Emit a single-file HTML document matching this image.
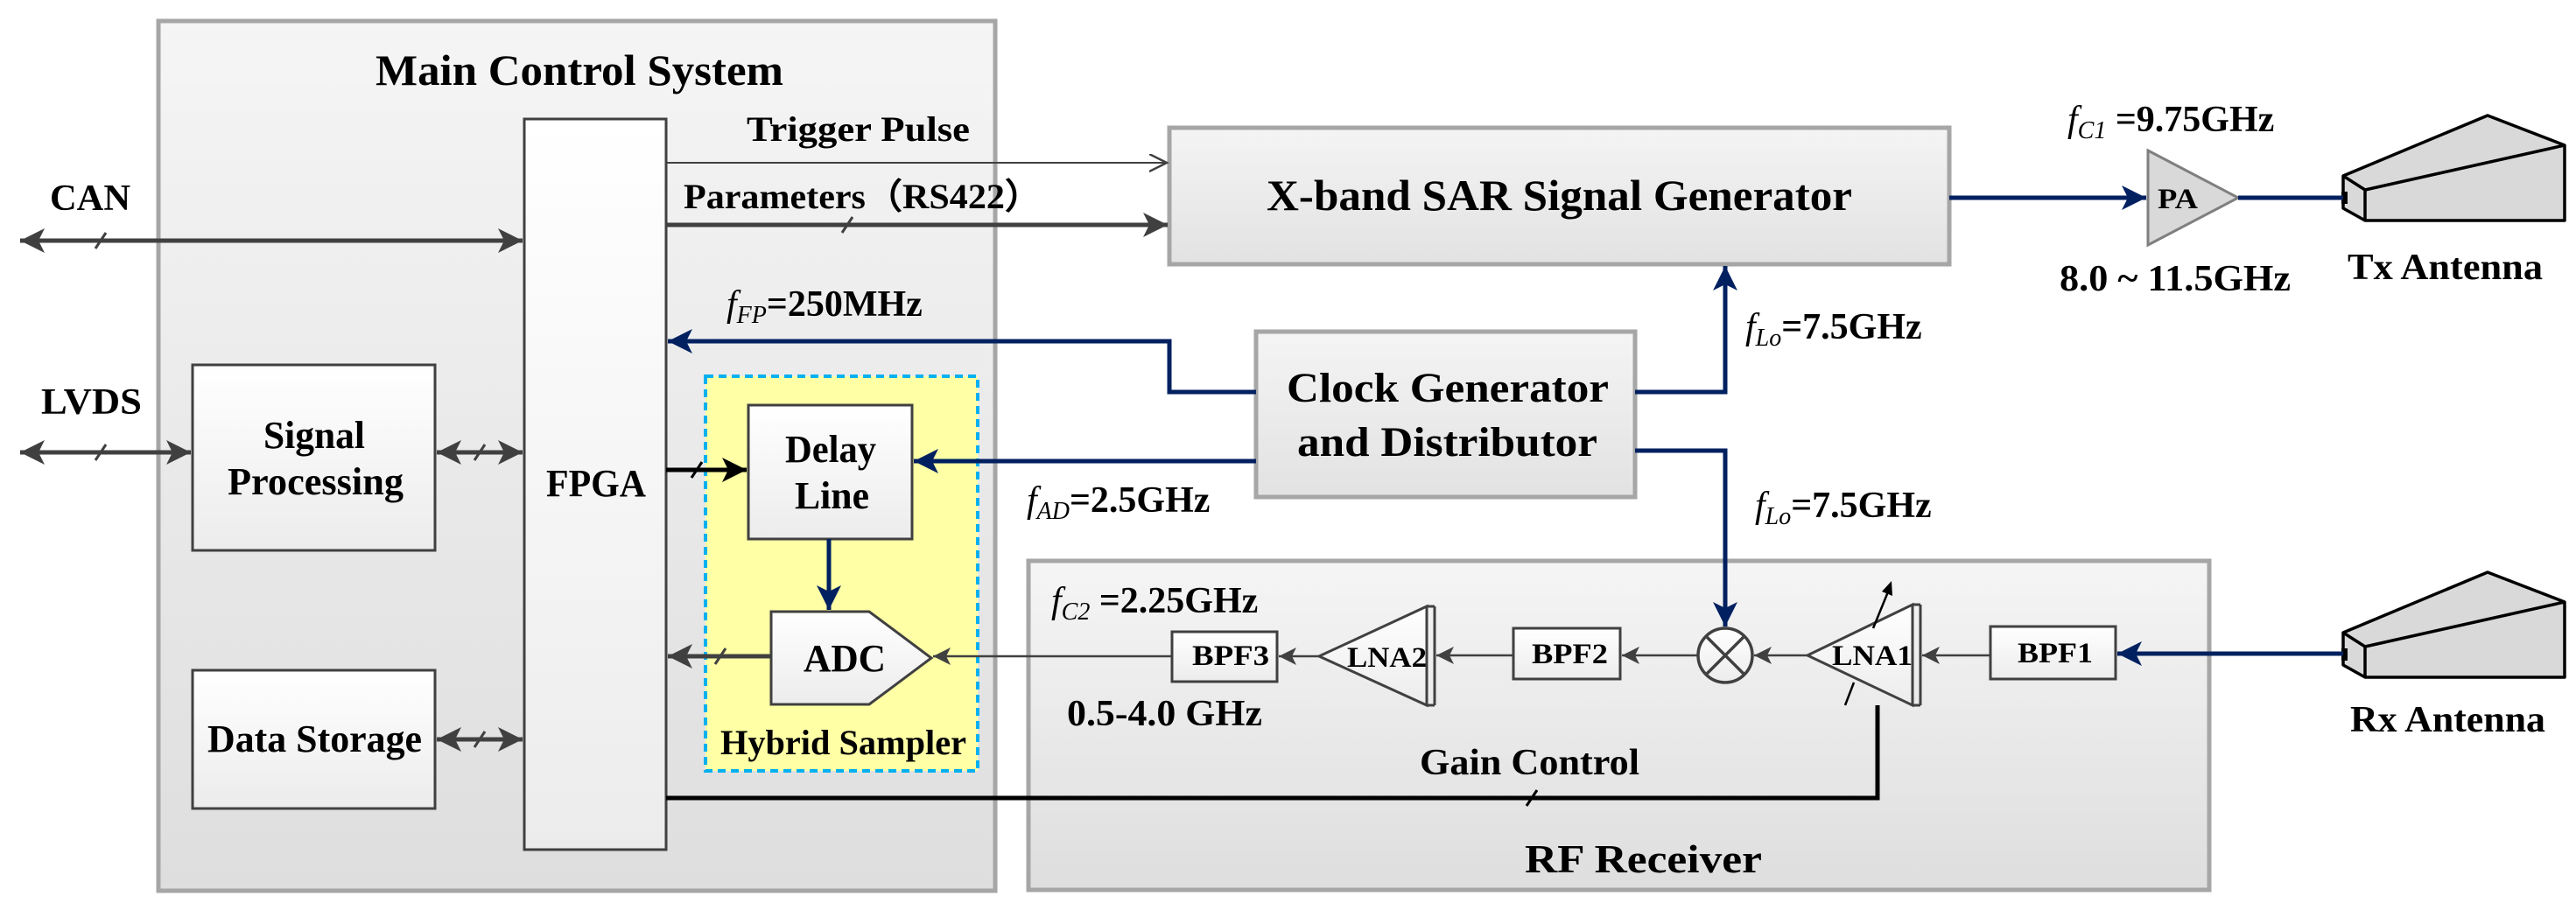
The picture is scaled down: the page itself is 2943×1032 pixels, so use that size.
<!DOCTYPE html>
<html><head><meta charset="utf-8"><style>
html,body{margin:0;padding:0;background:#fff;}
svg{display:block;}
text{font-family:"Liberation Serif",serif;font-weight:bold;fill:#000;}
</style></head><body>
<svg width="2943" height="1032" viewBox="0 0 2943 1032" xmlns="http://www.w3.org/2000/svg">
<defs>
<linearGradient id="gbig" x1="0" y1="0" x2="0" y2="1"><stop offset="0" stop-color="#f5f5f5"/><stop offset="1" stop-color="#dedede"/></linearGradient>
<linearGradient id="gbox" x1="0" y1="0" x2="0" y2="1"><stop offset="0" stop-color="#ffffff"/><stop offset="1" stop-color="#ececec"/></linearGradient>
<linearGradient id="gmid" x1="0" y1="0" x2="0" y2="1"><stop offset="0" stop-color="#f4f4f4"/><stop offset="1" stop-color="#e2e2e2"/></linearGradient>
<marker id="ag" markerUnits="userSpaceOnUse" markerWidth="30" markerHeight="30" refX="28" refY="14" orient="auto-start-reverse"><path d="M0,0 L28,14 L0,28 L7,14 z" fill="#404040"/></marker>
<marker id="ak" markerUnits="userSpaceOnUse" markerWidth="30" markerHeight="30" refX="28" refY="14" orient="auto-start-reverse"><path d="M0,0 L28,14 L0,28 L7,14 z" fill="#000"/></marker>
<marker id="ab" markerUnits="userSpaceOnUse" markerWidth="30" markerHeight="30" refX="28" refY="14" orient="auto-start-reverse"><path d="M0,0 L28,14 L0,28 L7,14 z" fill="#002060"/></marker>
<marker id="at" markerUnits="userSpaceOnUse" markerWidth="24" markerHeight="24" refX="20" refY="10" orient="auto"><path d="M0,0 L20,10 L0,20" fill="none" stroke="#404040" stroke-width="2.5"/></marker>
<marker id="as" markerUnits="userSpaceOnUse" markerWidth="24" markerHeight="24" refX="20" refY="10" orient="auto"><path d="M0,0 L20,10 L0,20 L5,10 z" fill="#404040"/></marker>
</defs>

<!-- big containers -->
<rect x="181" y="24" width="956" height="994" fill="url(#gbig)" stroke="#a6a6a6" stroke-width="5"/>
<rect x="1175" y="641" width="1349" height="376" fill="url(#gbig)" stroke="#a6a6a6" stroke-width="5"/>

<!-- hybrid sampler -->
<rect x="806" y="430" width="311" height="451" fill="#ffffa6" stroke="#00b0f0" stroke-width="4" stroke-dasharray="9,6"/>

<!-- inner boxes -->
<rect x="599" y="136" width="162" height="835" fill="url(#gbox)" stroke="#404040" stroke-width="3"/>
<rect x="220" y="417" width="277" height="212" fill="url(#gbox)" stroke="#404040" stroke-width="3"/>
<rect x="220" y="766" width="277" height="158" fill="url(#gbox)" stroke="#404040" stroke-width="3"/>
<rect x="855" y="463" width="187" height="153" fill="url(#gbox)" stroke="#404040" stroke-width="3"/>
<polygon points="881,699 993,699 1064,752 993,805 881,805" fill="url(#gbox)" stroke="#404040" stroke-width="3"/>
<rect x="1336" y="146" width="891" height="156" fill="url(#gmid)" stroke="#a6a6a6" stroke-width="5"/>
<rect x="1435" y="379" width="433" height="189" fill="url(#gmid)" stroke="#a6a6a6" stroke-width="5"/>

<!-- RF chain boxes -->
<rect x="1339" y="722" width="120" height="57" fill="url(#gbox)" stroke="#404040" stroke-width="3"/>
<rect x="1729" y="718" width="122" height="58" fill="url(#gbox)" stroke="#404040" stroke-width="3"/>
<rect x="2274" y="716" width="143" height="60" fill="url(#gbox)" stroke="#404040" stroke-width="3"/>
<!-- LNA2 -->
<polygon points="1507,750 1630,693 1630,806" fill="url(#gbox)" stroke="#404040" stroke-width="3"/>
<line x1="1639" y1="693" x2="1639" y2="806" stroke="#404040" stroke-width="3"/>
<line x1="1630" y1="693" x2="1639" y2="693" stroke="#404040" stroke-width="3"/>
<line x1="1630" y1="806" x2="1639" y2="806" stroke="#404040" stroke-width="3"/>
<!-- LNA1 -->
<polygon points="2065,749 2185,691 2185,806" fill="url(#gbox)" stroke="#404040" stroke-width="3"/>
<line x1="2194" y1="691" x2="2194" y2="806" stroke="#404040" stroke-width="3"/>
<line x1="2185" y1="691" x2="2194" y2="691" stroke="#404040" stroke-width="3"/>
<line x1="2185" y1="806" x2="2194" y2="806" stroke="#404040" stroke-width="3"/>
<line x1="2108" y1="806" x2="2118" y2="780" stroke="#000" stroke-width="2.5"/>
<line x1="2140" y1="718" x2="2158" y2="674" stroke="#000" stroke-width="2.5"/>
<path d="M2150,676 L2161,664 L2162,681 z" fill="#000"/>
<!-- mixer -->
<circle cx="1971" cy="749" r="31" fill="url(#gbox)" stroke="#404040" stroke-width="3.5"/>
<line x1="1949" y1="727" x2="1993" y2="771" stroke="#404040" stroke-width="3.5"/>
<line x1="1993" y1="727" x2="1949" y2="771" stroke="#404040" stroke-width="3.5"/>
<!-- PA -->
<polygon points="2454,172 2557,226 2454,280" fill="#d9d9d9" stroke="#7f7f7f" stroke-width="3"/>

<!-- antennas -->
<g fill="#d9d9d9" stroke="#000" stroke-width="3.5" stroke-linejoin="round">
<polygon points="2677,201 2842,132 2930,166 2930,252 2702,252 2677,238"/>
<polyline points="2677,201 2702,217 2702,252" fill="none"/>
<line x1="2702" y1="217" x2="2930" y2="166"/>
<polygon points="2677,723 2842,654 2930,688 2930,774 2702,774 2677,760"/>
<polyline points="2677,723 2702,739 2702,774" fill="none"/>
<line x1="2702" y1="739" x2="2930" y2="688"/>
</g>
<rect x="2675" y="219" width="7" height="14" fill="#000"/>
<rect x="2675" y="741" width="7" height="14" fill="#000"/>

<!-- connectors gray buses -->
<g stroke="#404040" stroke-width="5" fill="none">
<line x1="23" y1="275" x2="597" y2="275" marker-start="url(#ag)" marker-end="url(#ag)"/>
<line x1="23" y1="517" x2="218" y2="517" marker-start="url(#ag)" marker-end="url(#ag)"/>
<line x1="499" y1="517" x2="597" y2="517" marker-start="url(#ag)" marker-end="url(#ag)"/>
<line x1="499" y1="845" x2="597" y2="845" marker-start="url(#ag)" marker-end="url(#ag)"/>
<line x1="761" y1="257" x2="1334" y2="257" marker-end="url(#ag)"/>
<line x1="881" y1="750" x2="763" y2="750" marker-end="url(#ag)"/>
</g>
<line x1="761" y1="186" x2="1333" y2="186" stroke="#404040" stroke-width="2" marker-end="url(#at)"/>
<!-- ticks -->
<g stroke="#404040" stroke-width="3">
<line x1="109" y1="284" x2="121" y2="266"/>
<line x1="109" y1="526" x2="121" y2="508"/>
<line x1="542" y1="526" x2="554" y2="508"/>
<line x1="542" y1="854" x2="554" y2="836"/>
<line x1="962" y1="266" x2="974" y2="248"/>
<line x1="817" y1="759" x2="829" y2="741"/>
</g>
<line x1="790" y1="546" x2="802" y2="528" stroke="#000" stroke-width="3"/>
<line x1="1744" y1="921" x2="1756" y2="903" stroke="#000" stroke-width="3"/>
<!-- FPGA to Delay -->
<line x1="761" y1="537" x2="853" y2="537" stroke="#000" stroke-width="5" marker-end="url(#ak)"/>
<!-- Gain control -->
<polyline points="761,912 2145,912 2145,806" fill="none" stroke="#000" stroke-width="5"/>

<!-- blue -->
<g stroke="#002060" stroke-width="5" fill="none">
<polyline points="1435,448 1336,448 1336,390 763,390" marker-end="url(#ab)"/>
<line x1="1435" y1="527" x2="1044" y2="527" marker-end="url(#ab)"/>
<line x1="947" y1="616" x2="947" y2="697" marker-end="url(#ab)"/>
<polyline points="1868,448 1971,448 1971,304" marker-end="url(#ab)"/>
<polyline points="1868,515 1971,515 1971,716" marker-end="url(#ab)"/>
<line x1="2227" y1="226" x2="2452" y2="226" marker-end="url(#ab)"/>
<line x1="2557" y1="226" x2="2677" y2="226"/>
<line x1="2677" y1="747" x2="2419" y2="747" marker-end="url(#ab)"/>
</g>

<!-- RF thin chain -->
<g stroke="#404040" stroke-width="2.5" fill="none">
<line x1="2274" y1="749" x2="2196" y2="749" marker-end="url(#as)"/>
<line x1="2065" y1="749" x2="2004" y2="749" marker-end="url(#as)"/>
<line x1="1940" y1="749" x2="1853" y2="749" marker-end="url(#as)"/>
<line x1="1729" y1="749" x2="1641" y2="749" marker-end="url(#as)"/>
<line x1="1507" y1="750" x2="1461" y2="750" marker-end="url(#as)"/>
<line x1="1339" y1="750" x2="1066" y2="750" marker-end="url(#as)"/>
</g>

<!-- text -->
<text x="429" y="97" font-size="50" textLength="466" lengthAdjust="spacingAndGlyphs">Main Control System</text>
<text x="853" y="161" font-size="40" textLength="255" lengthAdjust="spacingAndGlyphs">Trigger Pulse</text>
<text x="781" y="238" font-size="40" textLength="409" lengthAdjust="spacingAndGlyphs">Parameters（RS422）</text>
<text x="57" y="240" font-size="42" textLength="92" lengthAdjust="spacingAndGlyphs">CAN</text>
<text x="47" y="473" font-size="42" textLength="115" lengthAdjust="spacingAndGlyphs">LVDS</text>
<text x="301" y="512" font-size="44" textLength="116" lengthAdjust="spacingAndGlyphs">Signal</text>
<text x="260" y="565" font-size="44" textLength="201" lengthAdjust="spacingAndGlyphs">Processing</text>
<text x="624" y="567" font-size="44" textLength="114" lengthAdjust="spacingAndGlyphs">FPGA</text>
<text x="237" y="859" font-size="44" textLength="245" lengthAdjust="spacingAndGlyphs">Data Storage</text>
<text x="897" y="528" font-size="44" textLength="104" lengthAdjust="spacingAndGlyphs">Delay</text>
<text x="908" y="581" font-size="44" textLength="85" lengthAdjust="spacingAndGlyphs">Line</text>
<text x="918" y="767" font-size="44" textLength="94" lengthAdjust="spacingAndGlyphs">ADC</text>
<text x="823" y="862" font-size="40" textLength="281" lengthAdjust="spacingAndGlyphs">Hybrid Sampler</text>
<text x="830" y="361" font-size="42"><tspan font-style="italic" font-weight="normal">f</tspan><tspan font-style="italic" font-weight="normal" font-size="28" dy="8">FP</tspan><tspan dy="-8">=250MHz</tspan></text>

<text x="1447" y="240" font-size="50" textLength="669" lengthAdjust="spacingAndGlyphs">X-band SAR Signal Generator</text>
<text x="1470" y="459" font-size="48" textLength="368" lengthAdjust="spacingAndGlyphs">Clock Generator</text>
<text x="1482" y="521" font-size="48" textLength="343" lengthAdjust="spacingAndGlyphs">and Distributor</text>
<text x="1994" y="387" font-size="42"><tspan font-style="italic" font-weight="normal">f</tspan><tspan font-style="italic" font-weight="normal" font-size="28" dy="8">Lo</tspan><tspan dy="-8">=7.5GHz</tspan></text>
<text x="2005" y="591" font-size="42"><tspan font-style="italic" font-weight="normal">f</tspan><tspan font-style="italic" font-weight="normal" font-size="28" dy="8">Lo</tspan><tspan dy="-8">=7.5GHz</tspan></text>
<text x="1173" y="585" font-size="42"><tspan font-style="italic" font-weight="normal">f</tspan><tspan font-style="italic" font-weight="normal" font-size="28" dy="8">AD</tspan><tspan dy="-8">=2.5GHz</tspan></text>
<text x="2362" y="150" font-size="42"><tspan font-style="italic" font-weight="normal">f</tspan><tspan font-style="italic" font-weight="normal" font-size="28" dy="8">C1</tspan><tspan dy="-8"> =9.75GHz</tspan></text>
<text x="1201" y="700" font-size="42"><tspan font-style="italic" font-weight="normal">f</tspan><tspan font-style="italic" font-weight="normal" font-size="28" dy="8">C2</tspan><tspan dy="-8"> =2.25GHz</tspan></text>
<text x="2353" y="332" font-size="42" textLength="264" lengthAdjust="spacingAndGlyphs">8.0 ~ 11.5GHz</text>
<text x="2682" y="319" font-size="42" textLength="223" lengthAdjust="spacingAndGlyphs">Tx Antenna</text>
<text x="2685" y="836" font-size="42" textLength="223" lengthAdjust="spacingAndGlyphs">Rx Antenna</text>
<text x="1219" y="829" font-size="42" textLength="223" lengthAdjust="spacingAndGlyphs">0.5-4.0 GHz</text>
<text x="1622" y="885" font-size="42" textLength="251" lengthAdjust="spacingAndGlyphs">Gain Control</text>
<text x="1742" y="997" font-size="46" textLength="271" lengthAdjust="spacingAndGlyphs">RF Receiver</text>
<g font-weight="normal">
<text x="1362" y="760" font-size="33" font-weight="normal" textLength="88" lengthAdjust="spacingAndGlyphs">BPF3</text>
<text x="1750" y="758" font-size="33" font-weight="normal" textLength="87" lengthAdjust="spacingAndGlyphs">BPF2</text>
<text x="2305" y="757" font-size="33" font-weight="normal" textLength="86" lengthAdjust="spacingAndGlyphs">BPF1</text>
<text x="1539" y="762" font-size="33" font-weight="normal" textLength="91" lengthAdjust="spacingAndGlyphs">LNA2</text>
<text x="2093" y="760" font-size="33" font-weight="normal" textLength="92" lengthAdjust="spacingAndGlyphs">LNA1</text>
<text x="2465" y="238" font-size="33" font-weight="normal" textLength="46" lengthAdjust="spacingAndGlyphs">PA</text>
</g>
</svg>
</body></html>
